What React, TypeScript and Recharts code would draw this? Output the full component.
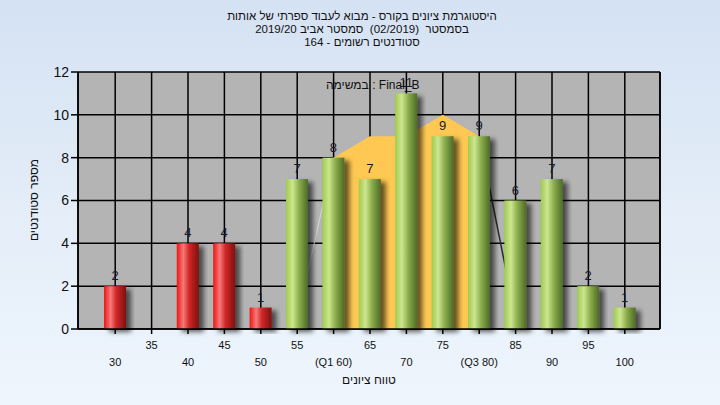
import { Area, Bar, CartesianGrid, ComposedChart, LabelList, XAxis, YAxis } from 'recharts';

const scores = [30, 35, 40, 45, 50, 55, 60, 65, 70, 75, 80, 85, 90, 95, 100];
const tickLabels = ['30', '35', '40', '45', '50', '55', '(Q1 60)', '65', '70', '75', '(Q3 80)', '85', '90', '95', '100'];
const students = [2, 0, 4, 4, 1, 7, 8, 7, 11, 9, 9, 6, 7, 2, 1];
// yellow quartile band (Q1..Q3)
const band = [null, null, null, null, null, null, 8, 9, 9, 10, 9, null, null, null, null];
const bandLeftEdge = [null, null, null, null, null, 0.5, 8, null, null, null, null, null, null, null, null];
const bandRightEdge = [null, null, null, null, null, null, null, null, null, null, 9, 0.5, null, null, null];
const yTicks = [0, 2, 4, 6, 8, 10, 12];
const PASS = 55;

const data = scores.map((s, i) => ({
  score: s,
  label: tickLabels[i],
  students: students[i],
  band: band[i],
  left: bandLeftEdge[i],
  right: bandRightEdge[i],
}));

const font = '"Liberation Sans", Arial, sans-serif';

function XTick(props: any) {
  const { x, y, payload, index } = props;
  const low = index % 2 === 0;
  return (
    <text x={x} y={y + (low ? 30 : 13)} textAnchor="middle" fontSize={11} fontFamily={font} fill="#111">
      {tickLabels[index] ?? payload.value}
    </text>
  );
}

function CylBar(props: any) {
  const { x, y, width, height, payload } = props;
  if (!height || height <= 0) return null;
  const fail = payload.score < PASS;
  return (
    <rect x={x} y={y} width={width} height={height} fill={fail ? 'url(#redCyl)' : 'url(#greenCyl)'} filter="url(#barShadow)" />
  );
}

export default function App() {
  return (
    <div
      style={{
        position: 'absolute',
        left: 0,
        top: 0,
        width: 720,
        height: 405,
        background: 'linear-gradient(to bottom, #d5e2f3 0%, #e6eff9 60%, #eef5fd 100%)',
        fontFamily: font,
        overflow: 'hidden',
      }}
    >
      <div
        style={{
          position: 'absolute',
          left: 0,
          width: 724,
          top: 10,
          textAlign: 'center',
          fontSize: 11.5,
          lineHeight: '13px',
          color: '#111',
          direction: 'rtl',
        }}
      >
        <div>היסטוגרמת ציונים בקורס - מבוא לעבוד ספרתי של אותות</div>
        <div>בסמסטר&nbsp; (02/2019)&nbsp; סמסטר אביב 2019/20</div>
        <div>סטודנטים רשומים - 164</div>
      </div>
      <ComposedChart width={720} height={405} data={data} margin={{ top: 72, right: 0, bottom: 26, left: 0 }}>
        <defs>
          <linearGradient id="redCyl" x1="0" y1="0" x2="1" y2="0">
            <stop offset="0%" stopColor="#ee1414" />
            <stop offset="30%" stopColor="#f47a7a" />
            <stop offset="55%" stopColor="#d42828" />
            <stop offset="100%" stopColor="#7c1010" />
          </linearGradient>
          <linearGradient id="greenCyl" x1="0" y1="0" x2="1" y2="0">
            <stop offset="0%" stopColor="#9fcb4e" />
            <stop offset="30%" stopColor="#cde68f" />
            <stop offset="60%" stopColor="#8aac4a" />
            <stop offset="100%" stopColor="#4d6a28" />
          </linearGradient>
          <filter id="barShadow" x="-20%" y="-10%" width="160%" height="130%">
            <feDropShadow dx="5" dy="3" stdDeviation="2.5" floodColor="#000" floodOpacity="0.6" />
          </filter>
        </defs>
        <CartesianGrid yAxisId="l" stroke="#000" strokeWidth={1.5} fill="#b4b4b4" fillOpacity={1} />
        <XAxis
          dataKey="score"
          height={50}
          padding={{ left: 19, right: 17 }}
          interval={0}
          tick={<XTick />}
          tickSize={5}
          stroke="#000"
          strokeWidth={1.5}
        />
        <YAxis
          yAxisId="l"
          width={78}
          domain={[0, 12]}
          ticks={yTicks}
          tickSize={7}
          tickMargin={2}
          stroke="#000"
          strokeWidth={1.5}
          tick={{ fill: '#111', fontSize: 14, fontFamily: font }}
        />
        <YAxis
          yAxisId="r"
          orientation="right"
          width={60}
          domain={[0, 12]}
          ticks={yTicks}
          tickSize={7}
          tickMargin={2}
          stroke="#000"
          strokeWidth={1.5}
          tick={{ fill: '#111', fontSize: 14, fontFamily: font }}
        />
        <Area yAxisId="l" type="linear" dataKey="band" stroke="none" fill="#ffc852" fillOpacity={1} isAnimationActive={false} dot={false} activeDot={false} />
        <Area yAxisId="l" type="linear" dataKey="left" stroke="#d6d6d6" strokeWidth={1} fill="none" isAnimationActive={false} dot={false} activeDot={false} />
        <Area yAxisId="l" type="linear" dataKey="right" stroke="#2a2a2a" strokeWidth={1.5} fill="none" isAnimationActive={false} dot={false} activeDot={false} />
        <Bar yAxisId="l" dataKey="students" barSize={22} shape={<CylBar />} isAnimationActive={false}>
          <LabelList
            dataKey="students"
            position="top"
            offset={6}
            formatter={(v: any) => (v === 0 ? '' : v)}
            style={{ fill: '#1a1a2a', fontSize: 13, fontFamily: font }}
          />
        </Bar>
      </ComposedChart>
      <div
        style={{
          position: 'absolute',
          left: 326,
          top: 78,
          fontSize: 12,
          color: '#111',
          whiteSpace: 'nowrap',
        }}
      >
        במשימה : Final_B
      </div>
      <div
        style={{
          position: 'absolute',
          left: 369,
          top: 380,
          transform: 'translate(-50%, -50%)',
          fontSize: 12,
          color: '#111',
          whiteSpace: 'nowrap',
        }}
      >
        טווח ציונים
      </div>
      <div
        style={{
          position: 'absolute',
          left: 34,
          top: 200,
          transform: 'translate(-50%, -50%) rotate(-90deg)',
          fontSize: 12,
          color: '#111',
          whiteSpace: 'nowrap',
        }}
      >
        מספר סטודנטים
      </div>
    </div>
  );
}
